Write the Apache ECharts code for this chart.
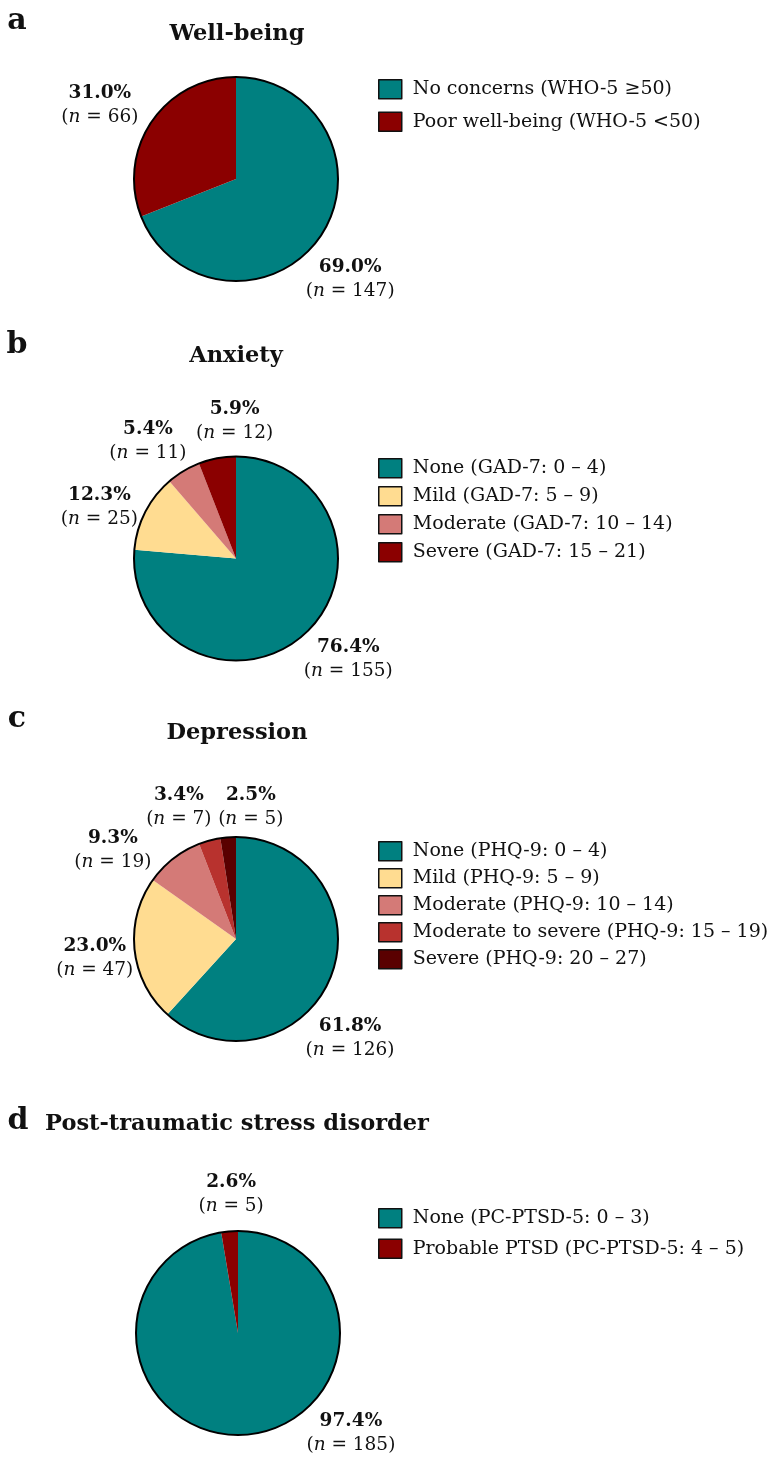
<!DOCTYPE html>
<html>
<head>
<meta charset="utf-8">
<script src="https://cdn.jsdelivr.net/npm/echarts@6/dist/echarts.min.js"></script>
<style>html,body{margin:0;padding:0;background:#fff}#c{width:771px;height:1466px}</style>
</head>
<body>
<div id="c"></div>
<script>
// ---- data ----
const panelLetters = ['a', 'b', 'c', 'd'];
const panelTitles = ['Well-being', 'Anxiety', 'Depression', 'Post-traumatic stress disorder'];

const wellbeingCats = ['No concerns (WHO-5 \u226550)', 'Poor well-being (WHO-5 <50)'];
const wellbeingN = [147, 66];

const anxietyCats = ['None (GAD-7: 0 \u2013 4)', 'Mild (GAD-7: 5 \u2013 9)', 'Moderate (GAD-7: 10 \u2013 14)', 'Severe (GAD-7: 15 \u2013 21)'];
const anxietyN = [155, 25, 11, 12];

const depressionCats = ['None (PHQ-9: 0 \u2013 4)', 'Mild (PHQ-9: 5 \u2013 9)', 'Moderate (PHQ-9: 10 \u2013 14)', 'Moderate to severe (PHQ-9: 15 \u2013 19)', 'Severe (PHQ-9: 20 \u2013 27)'];
const depressionN = [126, 47, 19, 7, 5];

const ptsdCats = ['None (PC-PTSD-5: 0 \u2013 3)', 'Probable PTSD (PC-PTSD-5: 4 \u2013 5)'];
const ptsdN = [185, 5];

// ---- styles / layout ----
const TEAL = '#008080', RED = '#8b0000', YEL = '#ffdc91', PINK = '#d47a77', MRED = '#b8322e', DRED = '#5a0000';
const colorSets = [[TEAL, RED], [TEAL, YEL, PINK, RED], [TEAL, YEL, PINK, MRED, DRED], [TEAL, RED]];
const centers = [[236, 179], [236, 558.5], [236, 939], [238, 1333]];
const RADIUS = 102;
const legendTops = [79, 458, 841, 1208];
const legendGaps = [12, 7.5, 6.5, 10];
const letterPos = [[17, 21], [17, 345], [17, 719], [18, 1121]];
const titlePos = [[237, 34], [236, 356], [237, 733], [237, 1124]];
// label nudges (dx, dy) relative to default outside label position
const labelNudge = [
  [[5, 26], [-27, 0]],
  [[23, 3], [-19, 9], [-20, -4], [23, -8]],
  [[-9, 52], [-10, 5], [-42, 15], [-23, -4], [25, 0]],
  [[102, -31], [4, -7]]
];

const FONT = '"DejaVu Serif", serif';
const catsAll = [wellbeingCats, anxietyCats, depressionCats, ptsdCats];
const valsAll = [wellbeingN, anxietyN, depressionN, ptsdN];

const series = [], legends = [], graphics = [];
catsAll.forEach((cats, si) => {
  const vals = valsAll[si];
  const total = vals.reduce((a, b) => a + b, 0);
  series.push({
    type: 'pie',
    name: panelTitles[si],
    center: centers[si],
    radius: RADIUS,
    startAngle: 90,
    clockwise: true,
    avoidLabelOverlap: false,
    animation: false,
    silent: true,
    itemStyle: { borderWidth: 0 },
    label: {
      show: true,
      position: 'outside',
      distanceToLabelLine: 0,
      color: '#111',
      fontFamily: FONT,
      formatter: (p) => '{b|' + (p.value / total * 100).toFixed(1) + '%}\n{t|(}{i|n}{t| = ' + p.value + ')}',
      rich: {
        b: { fontFamily: FONT, fontWeight: 'bold', fontSize: 18.5, lineHeight: 24, color: '#111' },
        t: { fontFamily: FONT, fontSize: 18.5, lineHeight: 24, color: '#111' },
        i: { fontFamily: FONT, fontStyle: 'italic', fontSize: 18.5, lineHeight: 24, color: '#111' }
      }
    },
    labelLine: { show: false, length: 30, length2: 0 },
    labelLayout: (params) => {
      const n = labelNudge[si][params.dataIndex] || [0, 0];
      return { dx: n[0], dy: n[1], align: 'center' };
    },
    data: cats.map((c, k) => ({ name: c, value: vals[k], itemStyle: { color: colorSets[si][k] } }))
  });
  // outline ring
  series.push({
    type: 'pie',
    center: centers[si],
    radius: RADIUS,
    silent: true,
    animation: false,
    label: { show: false },
    labelLine: { show: false },
    itemStyle: { color: 'rgba(0,0,0,0)', borderColor: '#000', borderWidth: 2 },
    data: [{ name: '_outline' + si, value: 1 }]
  });
  legends.push({
    orient: 'vertical',
    left: 378,
    top: legendTops[si],
    padding: 0,
    itemWidth: 23,
    itemHeight: 19,
    itemGap: legendGaps[si],
    icon: 'rect',
    selectedMode: false,
    itemStyle: { borderColor: '#111', borderWidth: 1.5 },
    textStyle: { fontFamily: FONT, fontSize: 19, lineHeight: 20, color: '#111', padding: [0, 0, 0, 6] },
    data: cats
  });
  graphics.push({
    type: 'text', x: letterPos[si][0], y: letterPos[si][1], silent: true,
    style: { text: panelLetters[si], fontFamily: FONT, fontWeight: 'bold', fontSize: 30, fill: '#111', align: 'center', verticalAlign: 'middle' }
  });
  graphics.push({
    type: 'text', x: titlePos[si][0], y: titlePos[si][1], silent: true,
    style: { text: panelTitles[si], fontFamily: FONT, fontWeight: 'bold', fontSize: 22.5, fill: '#111', align: 'center', verticalAlign: 'middle' }
  });
});

const chart = echarts.init(document.getElementById('c'), null, { renderer: 'canvas' });
chart.setOption({
  backgroundColor: '#fff',
  animation: false,
  legend: legends,
  graphic: graphics,
  series: series
});
</script>
</body>
</html>
